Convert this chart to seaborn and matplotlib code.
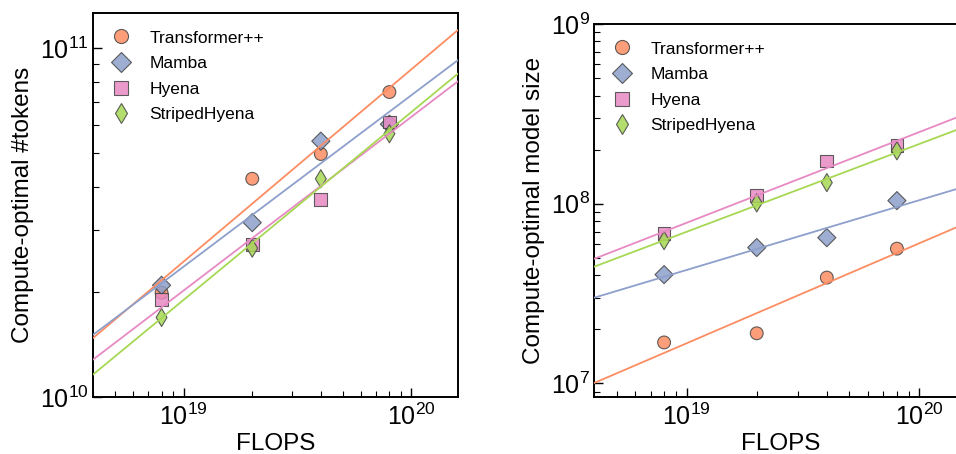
import numpy as np
import pandas as pd
import matplotlib
matplotlib.use("Agg")
import matplotlib.pyplot as plt
import seaborn as sns

flops = [8e18, 2e19, 4e19, 8e19]
models = ["Transformer++", "Mamba", "Hyena", "StripedHyena"]

# compute-optimal #tokens
tokens_transformer = [1.99e10, 4.22e10, 4.97e10, 7.48e10]
tokens_mamba = [2.09e10, 3.16e10, 5.41e10, 6.05e10]
tokens_hyena = [1.90e10, 2.74e10, 3.69e10, 6.14e10]
tokens_striped = [1.69e10, 2.67e10, 4.22e10, 5.68e10]

# compute-optimal model size
size_transformer = [1.69e7, 1.90e7, 3.88e7, 5.62e7]
size_mamba = [4.03e7, 5.70e7, 6.47e7, 1.04e8]
size_hyena = [6.81e7, 1.11e8, 1.73e8, 2.10e8]
size_striped = [6.23e7, 1.01e8, 1.31e8, 1.97e8]

sns.set_style("white")
plt.rcParams["font.family"] = ["Liberation Sans", "DejaVu Sans"]
plt.rcParams["mathtext.default"] = "regular"
plt.rcParams["text.color"] = "black"
plt.rcParams["axes.labelcolor"] = "black"
plt.rcParams["xtick.color"] = "black"
plt.rcParams["ytick.color"] = "black"

palette = sns.color_palette("Set2")[1:5]
markers = ["o", "D", "s", "d"]
xlim = (4e18, 1.6e20)


def make_df(vals):
    rows = []
    for m, v in zip(models, vals):
        for f, y in zip(flops, v):
            rows.append({"FLOPS": f, "value": y, "model": m})
    return pd.DataFrame(rows)


def draw_panel(ax, df, ylabel, ylim, legpad, legx):
    # fitted power laws, in log-log space
    xs = np.logspace(np.log10(xlim[0]), np.log10(xlim[1]), 50)
    for m, c in zip(models, palette):
        sub = df[df.model == m]
        k, b = np.polyfit(np.log10(sub.FLOPS), np.log10(sub.value), 1)
        ax.plot(xs, 10 ** (k * np.log10(xs) + b), color=c, lw=1.3, zorder=3)
    sns.scatterplot(data=df, x="FLOPS", y="value", hue="model", style="model",
                    palette=palette, markers=markers, s=85, alpha=0.85,
                    edgecolor="#444444", linewidth=0.8, ax=ax, zorder=2)
    ax.set_xscale("log")
    ax.set_yscale("log")
    ax.set_xlim(*xlim)
    ax.set_ylim(*ylim)
    ax.set_xlabel("FLOPS", fontsize=17.5, labelpad=2)
    ax.set_ylabel(ylabel, fontsize=17.5)
    ax.tick_params(which="both", direction="in", labelsize=18,
                   bottom=True, left=True, top=False, right=False)
    ax.tick_params(which="major", length=6.5, width=1)
    ax.tick_params(which="minor", length=4, width=0.8)
    ax.tick_params(axis="x", pad=5)
    ax.tick_params(axis="y", pad=3)
    for sp in ax.spines.values():
        sp.set_linewidth(1.4)
        sp.set_color("black")
    leg = ax.legend(loc="upper left", bbox_to_anchor=(legx, 1), frameon=False,
                    fontsize=12.5, handletextpad=0.65, labelspacing=0.6,
                    markerscale=1.1, borderaxespad=legpad)
    for h in leg.legend_handles:
        h.set_alpha(0.85)


fig = plt.figure(figsize=(9.56, 4.54), dpi=100)
ax1 = fig.add_axes([93 / 956, 57 / 454, 365 / 956, 384 / 454])
ax2 = fig.add_axes([594 / 956, 57 / 454, 373 / 956, 373 / 454])

draw_panel(ax1, make_df([tokens_transformer, tokens_mamba, tokens_hyena, tokens_striped]),
           "Compute-optimal #tokens", (1e10, 1.26e11), 0.6, -7 / 365)
draw_panel(ax2, make_df([size_transformer, size_mamba, size_hyena, size_striped]),
           "Compute-optimal model size", (8.4e6, 1e9), 0.6, -7 / 373)

fig.savefig("out.png", dpi=100)
